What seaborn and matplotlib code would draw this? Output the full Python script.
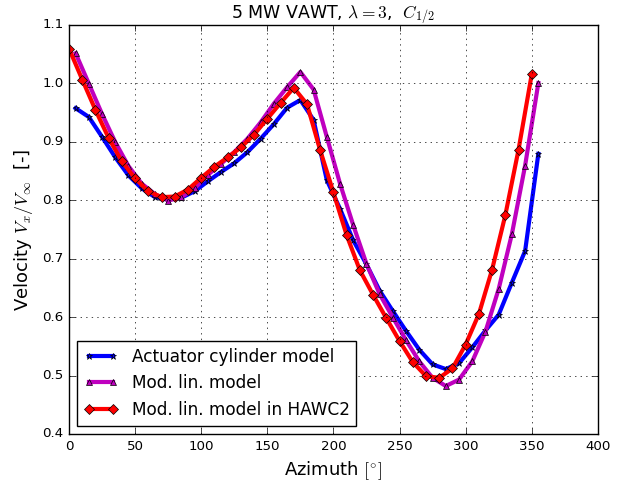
import numpy as np
import pandas as pd
import matplotlib
matplotlib.use("Agg")
import matplotlib.pyplot as plt
import seaborn as sns

plt.style.use('classic')
plt.rcParams['font.family'] = ['DejaVu Sans']
plt.rcParams['mathtext.fontset'] = 'cm'
plt.rcParams['figure.facecolor'] = 'white'
plt.rcParams['savefig.facecolor'] = 'white'

# azimuth positions [deg]
az_ac = [5, 15, 25, 35, 45, 55, 65, 75, 85, 95, 105, 115, 125, 135, 145, 155, 165, 175,
         185, 195, 205, 215, 225, 235, 245, 255, 265, 275, 285, 295, 305, 315, 325, 335, 345, 355]
az_hawc = [0, 10, 20, 30, 40, 50, 60, 70, 80, 90, 100, 110, 120, 130, 140, 150, 160, 170,
           180, 190, 200, 210, 220, 230, 240, 250, 260, 270, 280, 290, 300, 310, 320, 330, 340, 350]

# velocity Vx/Vinf
v_ac = [0.957, 0.942, 0.908, 0.873, 0.842, 0.820, 0.805, 0.801, 0.804, 0.815, 0.832, 0.848,
        0.863, 0.882, 0.905, 0.930, 0.958, 0.971, 0.937, 0.834, 0.785, 0.731, 0.690, 0.645,
        0.610, 0.576, 0.544, 0.519, 0.511, 0.521, 0.548, 0.577, 0.604, 0.659, 0.713, 0.879]
v_modlin = [1.051, 0.999, 0.947, 0.899, 0.858, 0.828, 0.810, 0.799, 0.805, 0.820, 0.843, 0.862,
            0.882, 0.905, 0.933, 0.965, 0.993, 1.019, 0.989, 0.908, 0.828, 0.757, 0.691, 0.639,
            0.599, 0.560, 0.524, 0.496, 0.482, 0.493, 0.524, 0.575, 0.648, 0.742, 0.859, 1.000]
v_hawc = [1.059, 1.006, 0.954, 0.906, 0.866, 0.837, 0.815, 0.805, 0.806, 0.818, 0.838, 0.857,
          0.873, 0.890, 0.912, 0.939, 0.966, 0.992, 0.964, 0.885, 0.813, 0.740, 0.680, 0.638,
          0.598, 0.559, 0.523, 0.499, 0.496, 0.512, 0.553, 0.605, 0.681, 0.774, 0.886, 1.015]

fig, ax = plt.subplots(figsize=(6.36, 4.82), dpi=100)
fig.subplots_adjust(left=0.1085, right=0.940, top=0.949, bottom=0.0996)

sns.lineplot(x=az_ac, y=v_ac, ax=ax, color='b', lw=3, marker='*', ms=5,
             mec='k', mew=0.5, label='Actuator cylinder model')
sns.lineplot(x=az_ac, y=v_modlin, ax=ax, color='m', lw=3, marker='^', ms=4,
             mec='k', mew=0.5, label='Mod. lin. model')
sns.lineplot(x=az_hawc, y=v_hawc, ax=ax, color='r', lw=3, marker='D', ms=5.5,
             mec='k', mew=0.5, label='Mod. lin. model in HAWC2')

ax.set_xlim(0, 400)
ax.set_ylim(0.4, 1.1)
ax.grid(True, color='k', linestyle=':', linewidth=0.5)
ax.tick_params(labelsize=9.6)
ax.set_xlabel(r'Azimuth $[^{\circ}]$', fontsize=13)
ax.set_ylabel(r'Velocity $V_x/V_\infty$  [-]', fontsize=13)
ax.set_title(r'5 MW VAWT, $\lambda=3$,  $C_{1/2}$', fontsize=12.5)
ax.legend(loc='lower left', fontsize=12.2, numpoints=2, fancybox=False, shadow=False)

plt.savefig('out.png', dpi=100)
